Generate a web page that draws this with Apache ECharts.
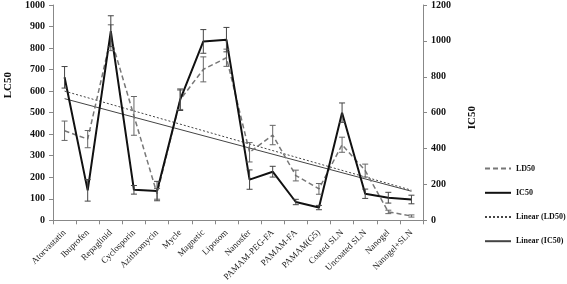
<!DOCTYPE html>
<html><head><meta charset="utf-8">
<script src="https://cdn.jsdelivr.net/npm/echarts@6/dist/echarts.min.js"></script>
<style>html,body{margin:0;padding:0;background:#fff}#c{width:567px;height:284px}</style>
</head><body><div id="c"></div>
<script>
const categories = ['Atorvastatin','Ibuprofen','Repaglinid','Cyclosporin','Azithromycin','Mycle','Magnetic','Liposom','Nanosfer','PAMAM-PEG-FA','PAMAM-FA','PAMAM(G5)','Coated SLN','Uncoated SLN','Nanogel','Nanogel+SLN'];
const ld50 = [416,377,848,485,123,560,701,755,316,396,208,146,351,231,39,20];
const ld50Err = [45,40,60,90,25,45,58,40,45,45,25,25,35,30,8,5];
const ic50 = [797,167,1054,170,163,672,997,1007,227,271,102,71,600,148,126,116];
const ic50Err = [60,60,86,24,54,60,66,68,54,30,15,12,54,26,30,24];
const trendLD50 = [[0,600],[15,140]];
const trendIC50 = [[0,678],[15,162]];
const leftTicks = [0,1000,100];
const rightTicks = [0,1200,200];

const F = 'Liberation Serif, Times New Roman, serif';
function errSeries(vals, errs, yIdx, color){
  return {type:'custom', yAxisIndex:yIdx, silent:true, z:5,
    data: vals.map((v,i)=>[i, v-errs[i], v+errs[i]]),
    renderItem:function(params, api){
      const lo = api.coord([api.value(0), api.value(1)]);
      const hi = api.coord([api.value(0), api.value(2)]);
      const w = 3;
      const st = {stroke:color, lineWidth:1};
      return {type:'group', children:[
        {type:'line', shape:{x1:lo[0],y1:lo[1],x2:hi[0],y2:hi[1]}, style:st},
        {type:'line', shape:{x1:lo[0]-w,y1:lo[1],x2:lo[0]+w,y2:lo[1]}, style:st},
        {type:'line', shape:{x1:hi[0]-w,y1:hi[1],x2:hi[0]+w,y2:hi[1]}, style:st}
      ]};
    }};
}
const chart = echarts.init(document.getElementById('c'));
chart.setOption({
  animation:false,
  grid:{left:53, right:144, top:5, bottom:62},
  legend:{orient:'vertical', left:479, top:158, itemWidth:26, itemHeight:14, itemGap:13,
    itemStyle:{opacity:0},
    textStyle:{fontFamily:F, fontWeight:'bold', fontSize:8, color:'#111'},
    data:['LD50','IC50','Linear (LD50)','Linear (IC50)']},
  xAxis:{type:'category', data:categories, boundaryGap:true,
    axisLine:{lineStyle:{color:'#888'}}, axisTick:{show:true, lineStyle:{color:'#888'}, length:4},
    axisLabel:{rotate:45, interval:0, fontFamily:F, fontSize:9, color:'#222', margin:11}},
  yAxis:[
    {type:'value', min:leftTicks[0], max:leftTicks[1], interval:leftTicks[2], splitLine:{show:false},
     axisLine:{show:true, lineStyle:{color:'#888'}}, axisTick:{show:true, inside:false, length:4, lineStyle:{color:'#888'}},
     axisLabel:{fontFamily:F, fontWeight:'bold', fontSize:10, color:'#111', margin:8, formatter:v=>String(v)}},
    {type:'value', min:rightTicks[0], max:rightTicks[1], interval:rightTicks[2], position:'right', splitLine:{show:false},
     axisLine:{show:true, lineStyle:{color:'#888'}}, axisTick:{show:true, length:4, lineStyle:{color:'#888'}},
     axisLabel:{fontFamily:F, fontWeight:'bold', fontSize:10, color:'#111', margin:8, formatter:v=>String(v)}}
  ],
  graphic:[
    {type:'text', left:3, top:72, rotation:Math.PI/2, style:{text:'LC50', font:'bold 11px '+F, fill:'#111'}},
    {type:'text', left:467, top:106, rotation:Math.PI/2, style:{text:'IC50', font:'bold 11px '+F, fill:'#111'}}
  ],
  series:[
    {name:'LD50', type:'line', yAxisIndex:0, data:ld50, symbol:'none', z:3,
      lineStyle:{color:'#777', width:1.5, type:[5,3]}, itemStyle:{color:'#777'}},
    {name:'IC50', type:'line', yAxisIndex:1, data:ic50, symbol:'none', z:4,
      lineStyle:{color:'#111', width:2}, itemStyle:{color:'#111'}},
    {name:'Linear (LD50)', type:'line', yAxisIndex:0, data:trendLD50, symbol:'none', z:2,
      lineStyle:{color:'#444', width:1, type:[2,2]}, itemStyle:{color:'#444'}},
    {name:'Linear (IC50)', type:'line', yAxisIndex:1, data:trendIC50, symbol:'none', z:2,
      lineStyle:{color:'#444', width:1}, itemStyle:{color:'#444'}},
    errSeries(ld50, ld50Err, 0, '#666'),
    errSeries(ic50, ic50Err, 1, '#444')
  ]
});
</script></body></html>
